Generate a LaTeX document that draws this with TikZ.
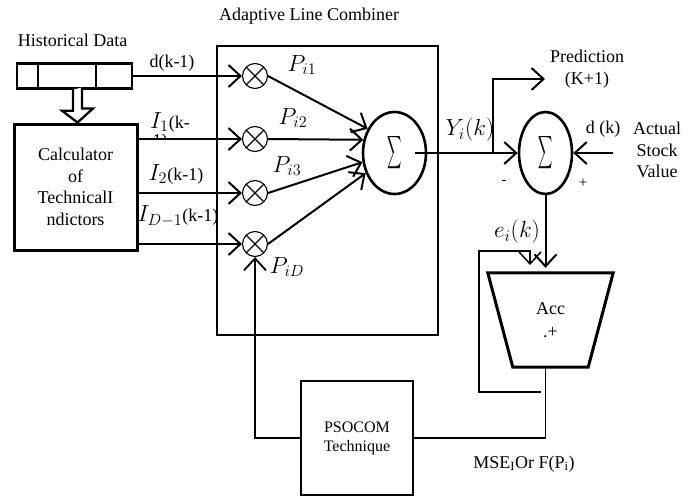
\documentclass[tikz,border=0pt]{standalone}
\usepackage{fontspec}
\setmainfont{Liberation Serif}
\usetikzlibrary{arrows.meta,calc,shapes.geometric}
\newcommand\mth[1]{\scalebox{1.35}{$#1$}}
\begin{document}
\begin{tikzpicture}[x=1pt,y=-1pt,
  every node/.style={font=\fontsize{18}{21.5}\selectfont},
  arr/.style={-{Straight Barb[length=12pt,width=22pt]}},
  ln/.style={line width=2pt},
  thinln/.style={line width=1.5pt},
  mult/.style={circle,draw,line width=1.1pt,minimum size=25,inner sep=0pt,
    path picture={\draw[line width=1.1pt]
      (path picture bounding box.north west)--(path picture bounding box.south east)
      (path picture bounding box.north east)--(path picture bounding box.south west);}},
  sumnode/.style={ellipse,draw,line width=2.6pt,inner sep=0pt},
  box/.style={draw,rectangle,inner sep=0pt,align=center},
  lbl/.style={inner sep=1pt}
]
\useasboundingbox (0,0) rectangle (696,498);

% titles
\node[lbl] (ttl) at (309,16) {Adaptive Line Combiner};
\node[lbl] (hist) at (72.5,40) {Historical Data};

% register
\node[box,line width=2.4pt,minimum width=115,minimum height=25] (reg) at (74.5,76) {};
\draw[line width=2pt] ([xshift=22]reg.north west) -- ([xshift=22]reg.south west)
  ([xshift=80]reg.north west) -- ([xshift=80]reg.south west);

% calculator
\node[box,line width=3pt,minimum width=123,minimum height=126] (calc) at (75.5,187)
  {Calculator\\of\\TechnicalI\\ndictors};

% hollow arrow register -> calculator
\coordinate (ha) at ($(reg.south)+(3,0)$);
\draw[line width=2.3pt,fill=white,line join=miter]
  ($(ha)+(-4.5,0)$) -- ++(0,21) -- ++(-11,0) -- (ha |- calc.north)
  -- ++(15.5,-14) -- ++(-11,0) -- ++(0,-21);

% combiner box
\node[box,line width=2pt,minimum width=221,minimum height=289] (alc) at (327.5,190.5) {};

% multipliers
\node[mult] (m1) at (255,76) {};
\node[mult] (m2) at (255,139) {};
\node[mult] (m3) at (255,193) {};
\node[mult] (m4) at (255,244) {};

% summers
\node[sumnode,minimum width=63,minimum height=82] (s1) at (394.5,153)
  {\scalebox{1.0}[2.3]{$\displaystyle\sum$}};
\node[sumnode,minimum width=53,minimum height=82] (s2) at (545.5,153)
  {\scalebox{1.0}[2.3]{$\displaystyle\sum$}};

% inputs to multipliers
\draw[ln,arr] (reg.east) -- (m1.west);
\draw[ln,arr] (m2 -| calc.east) -- (m2.west);
\draw[ln,arr] (m3 -| calc.east) -- (m3.west);
\draw[ln,arr] (m4 -| calc.east) -- (m4.west);

\node[lbl] at (172,63) {d(k-1)};
\node[lbl] at (170,122) {\mth{I_1}(k-};
\begin{scope}
  \clip (140,129) rectangle (200,137);
  \node[lbl,anchor=base] at (160,146) {1)};
\end{scope}
\node[lbl] at (176,174) {\mth{I_2}(k-1)};
\node[lbl] at (178,216) {\mth{I_{D-1}}(k-1)};

% multipliers to summer
\draw[ln,arr] (m1.east) -- (s1.138);
\draw[ln,arr] (m2.east) -- (s1.157);
\draw[ln,arr] (m3.east) -- (s1.196);
\draw[ln,arr] (m4.east) -- (s1.215);

\node[lbl] at (302,65) {\mth{P_{i1}}};
\node[lbl] at (293,118) {\mth{P_{i2}}};
\node[lbl,fill=white] at (287,166) {\mth{P_{i3}}};
\node[lbl] at (287,267) {\mth{P_{iD}}};

% summer 1 -> summer 2
\draw[ln,arr] ([xshift=20]s1.center) -- (s2.west);
\node[lbl] at (470,130) {\mth{Y_i(k)}};

% prediction branch
\coordinate (br) at (493,153);
\coordinate (pred) at (545,79);
\draw[ln,arr] (br) |- (pred);
\node[lbl,align=center] at (587,69) {Prediction\\(K+1)};

% actual value
\coordinate (din) at (613,153);
\draw[ln,arr] (din) -- (s2.east);
\node[lbl] at (603,129) {d (k)};
\node[lbl,align=center] at (657,150) {Actual\\Stock\\Value};
\node[lbl,font=\fontsize{15}{18}\selectfont] at (504,182) {-};
\node[lbl,font=\fontsize{15}{18}\selectfont] at (583,183) {+};

% accumulator
\node[inner sep=0pt,minimum width=125,minimum height=94,align=center,
  font=\fontsize{18}{23}\selectfont] (acc) at (550.5,320) {Acc\\.+};
\draw[line width=3pt,line join=miter] (acc.north west) -- (acc.north east)
  -- ([xshift=-25]acc.south east) -- ([xshift=25]acc.south west) -- cycle;

\draw[ln,arr,shorten >=5pt] (s2.south) -- (s2.south |- acc.north);
\node[lbl] at (517,232) {\mth{e_i(k)}};

% feedback
\coordinate (fbs) at (541,392);
\coordinate (fbc) at (479,251);
\draw[thinln,arr] (fbs) -| (fbc) -- ++(51,0) -- ++(0,14);

% PSOCOM
\node[box,line width=2pt,minimum width=112,minimum height=114,
  font=\fontsize{16}{19}\selectfont] (pso) at (357,438) {PSOCOM\\Technique};

\draw[thinln] (s2.south |- acc.south) |- (pso.east);
\draw[line width=1.8pt,arr] (pso.west) -| (m4.south);
\node[lbl] at (524,464) {MSE\textsubscript{I}Or F(P\textsubscript{i})};
\end{tikzpicture}
\end{document}
